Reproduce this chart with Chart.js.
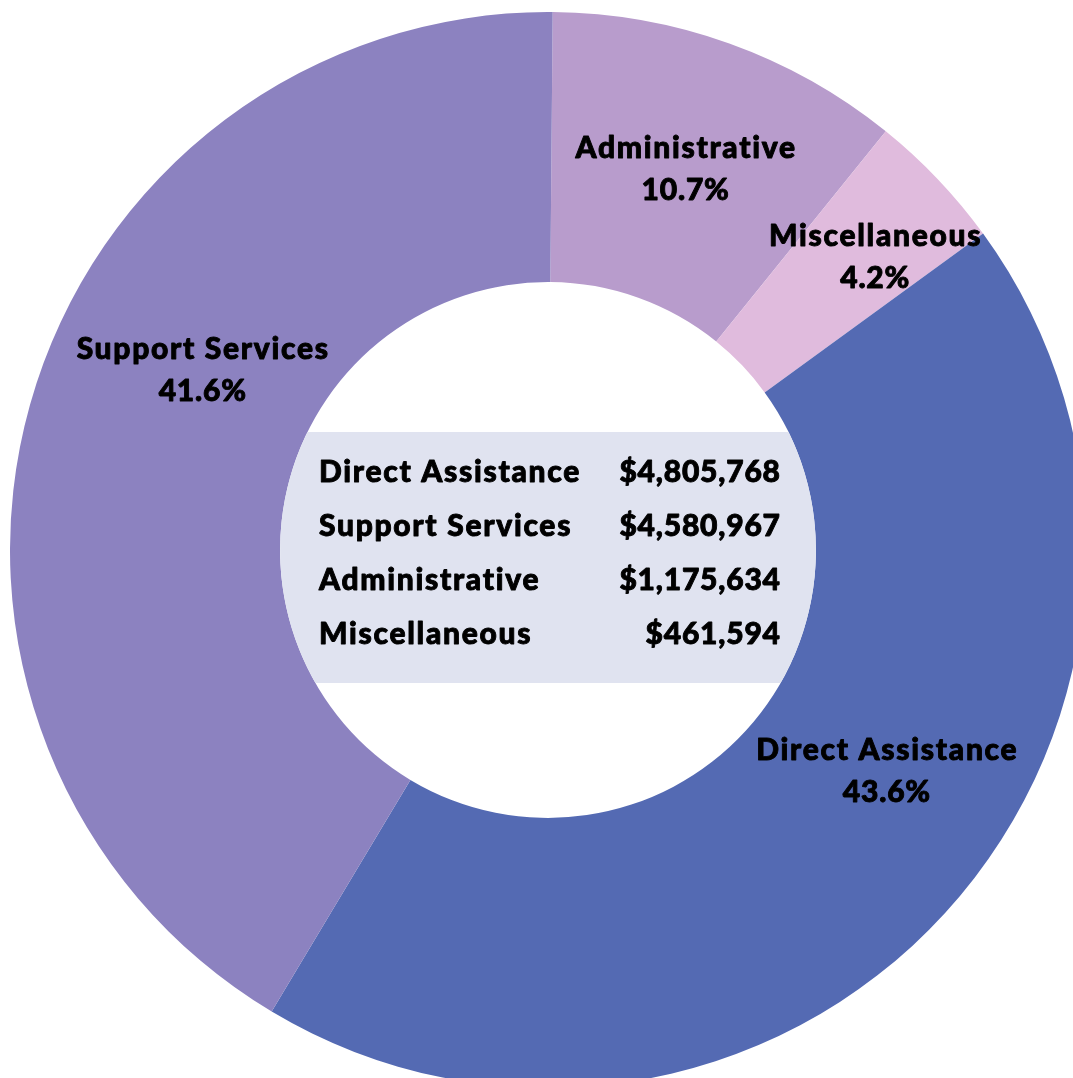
<!DOCTYPE html>
<html>
<head>
<meta charset="utf-8">
<script src="https://cdn.jsdelivr.net/npm/chart.js"></script>
<style>
  html, body { margin: 0; padding: 0; background: #fff; overflow: hidden; width: 1073px; height: 1078px; }
  #wrap { position: absolute; left: 10px; top: 12px; width: 1076px; height: 1076px; }
</style>
</head>
<body>
<div id="wrap"><canvas id="budgetChart"></canvas></div>
<script>
// spending by category, in dollars
const categories = ["Administrative", "Miscellaneous", "Direct Assistance", "Support Services"];
const amounts = [1175634, 461594, 4805768, 4580967];
const percentLabels = ["10.7%", "4.2%", "43.6%", "41.6%"];
const colors = ["#b89ccc", "#e0bbdd", "#546ab3", "#8c82c0"];

// order of rows in the summary box
const summaryOrder = ["Direct Assistance", "Support Services", "Administrative", "Miscellaneous"];

const FONT = "900 30px Lato, 'Open Sans', sans-serif";
const WORD_SPACING = 1.7;
const NUM_SPACING = 0.8;

// where each slice label sits: angle clockwise from 12 o'clock, radius as fraction of outer radius
const labelSpots = [
    { deg: 19.8, r: 0.753 },
    { deg: 48.1, r: 0.816 },
    { deg: 123.1, r: 0.751 },
    { deg: 297.6, r: 0.725 },
];

const fmtMoney = v => "$" + v.toLocaleString("en-US");

// draws heavy text with letter spacing, keeping the requested alignment exact
function spacedText(ctx, str, x, y, align, spacing) {
    ctx.letterSpacing = spacing + "px";
    const w = ctx.measureText(str).width - spacing;
    let left = x;
    if (align === "center") left = x - w / 2;
    else if (align === "right") left = x - w;
    ctx.textAlign = "left";
    ctx.lineWidth = 0.9;
    ctx.strokeStyle = "#000";
    ctx.lineJoin = "round";
    ctx.strokeText(str, left, y);
    ctx.fillText(str, left, y);
}

const summaryBox = {
    id: "summaryBox",
    afterDatasetsDraw(chart) {
        const arc = chart.getDatasetMeta(0).data[0];
        const { x, y, innerRadius } = arc.getProps(["x", "y", "innerRadius"], true);
        const ctx = chart.ctx;
        ctx.save();
        ctx.beginPath();
        ctx.arc(x, y, innerRadius, 0, Math.PI * 2);
        ctx.clip();
        ctx.fillStyle = "#e0e3f0";
        ctx.fillRect(x - innerRadius, y - 118, innerRadius * 2, 251);
        ctx.restore();

        ctx.save();
        ctx.font = FONT;
        ctx.fillStyle = "#000";
        ctx.textBaseline = "alphabetic";
        summaryOrder.forEach((name, i) => {
            const by = y - 68 + i * 54;
            const v = amounts[categories.indexOf(name)];
            spacedText(ctx, name, x - 229, by, "left", WORD_SPACING);
            spacedText(ctx, fmtMoney(v), x + 232, by, "right", NUM_SPACING);
        });
        ctx.restore();
    }
};

const sliceLabels = {
    id: "sliceLabels",
    afterDatasetsDraw(chart) {
        const arc = chart.getDatasetMeta(0).data[0];
        const { x, y, outerRadius } = arc.getProps(["x", "y", "outerRadius"], true);
        const ctx = chart.ctx;
        ctx.save();
        ctx.font = FONT;
        ctx.fillStyle = "#000";
        ctx.textBaseline = "alphabetic";
        labelSpots.forEach((s, i) => {
            const a = s.deg * Math.PI / 180;
            const cx = x + Math.sin(a) * s.r * outerRadius;
            const cy = y - Math.cos(a) * s.r * outerRadius;
            spacedText(ctx, categories[i], cx, cy - 10.5, "center", WORD_SPACING);
            spacedText(ctx, percentLabels[i], cx, cy + 31.5, "center", NUM_SPACING);
        });
        ctx.restore();
    }
};

new Chart(document.getElementById("budgetChart"), {
    type: "doughnut",
    data: {
        labels: categories,
        datasets: [{
            data: amounts,
            backgroundColor: colors,
            borderWidth: 0,
        }],
    },
    options: {
        responsive: true,
        maintainAspectRatio: false,
        animation: false,
        cutout: "49.8%",
        rotation: 0.5,
        layout: { padding: 0 },
        plugins: {
            legend: { display: false },
            tooltip: { enabled: false },
        },
    },
    plugins: [summaryBox, sliceLabels],
});
</script>
</body>
</html>
